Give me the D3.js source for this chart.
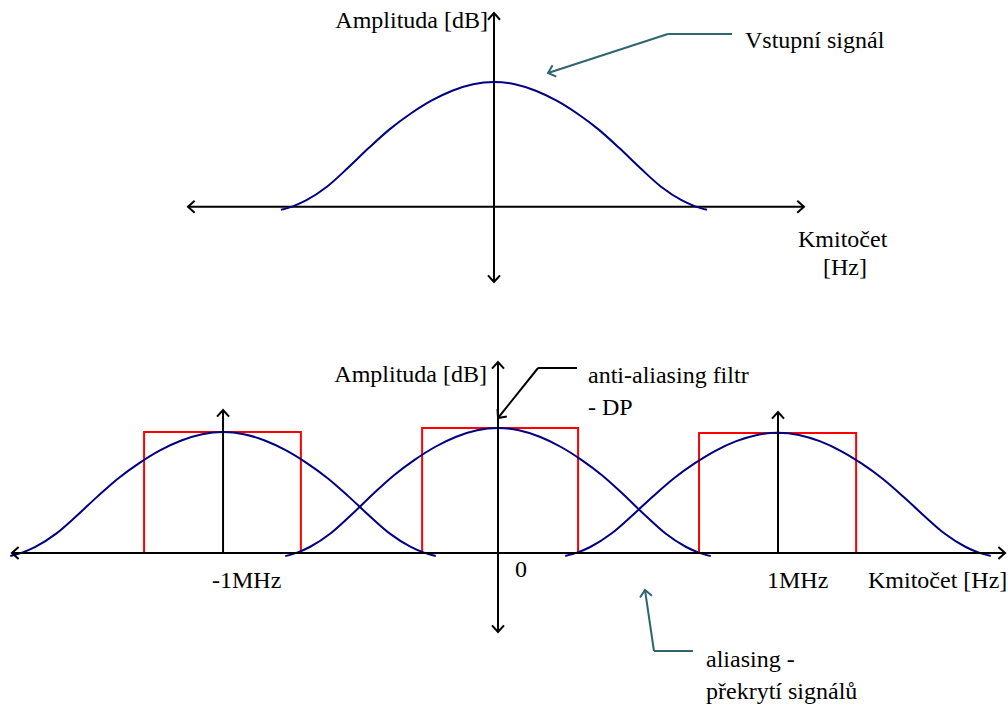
<!DOCTYPE html>
<html>
<head>
<meta charset="utf-8">
<script src="https://cdn.jsdelivr.net/npm/d3@7"></script>
<style>
  html, body { margin: 0; padding: 0; background: #ffffff; }
  svg { display: block; }
</style>
</head>
<body>
<svg id="chart" width="1008" height="709"></svg>
<script>
// ---------------- DATA ----------------
// normalised spectrum profile (offset from centre in half-widths, relative amplitude)
const profileU = [-1.02, -0.96, -0.9, -0.8, -0.7, -0.6, -0.5, -0.4, -0.3, -0.2, -0.1, 0, 0.1, 0.2, 0.3, 0.4, 0.5, 0.6, 0.7, 0.8, 0.9, 0.96, 1.02];
const profileV = [-0.025, 0.005, 0.05, 0.16, 0.31, 0.47, 0.62, 0.745, 0.85, 0.93, 0.982, 1, 0.982, 0.93, 0.85, 0.745, 0.62, 0.47, 0.31, 0.16, 0.05, 0.005, -0.025];

// top chart: input signal
const inputCenter = 0;
const inputHalfWidth = 0.746;
const inputAmplitude = 1.0;

// bottom chart: sampled spectrum replicas (MHz)
const replicaCenters = [-0.982, 0, 1.0];
const replicaAmplitudes = [0.968, 1.0, 0.962];
const replicaHalfWidth = 0.745;

// anti-aliasing filter (low-pass) passbands
const filterStart = [-1.264, -0.271, 0.718];
const filterEnd = [-0.704, 0.286, 1.279];
const filterLevel = [0.968, 1.0, 0.96];

// frequency tick labels
const tickLabels = ["-1MHz", "0", "1MHz"];
const tickValues = [-0.982, 0, 1.0];

// ---------------- LAYOUT ----------------
const FONT = "'Liberation Serif', 'Times New Roman', Tinos, serif";
const svg = d3.select("#chart");
const navy = "#000080", red = "#ff0000", teal = "#2f6471";

const xTop = d3.scaleLinear().domain([0, 1]).range([494, 774]);
const yTop = d3.scaleLinear().domain([0, 1]).range([206.7, 82]);
const xBot = d3.scaleLinear().domain([0, 1]).range([498, 778]);
const yBot = d3.scaleLinear().domain([0, 1]).range([553, 428]);

function label(g, x, y, t, anchor) {
  return g.append("text").attr("x", x).attr("y", y)
    .attr("font-family", FONT).attr("font-size", 24).attr("fill", "#000")
    .attr("text-anchor", anchor || "start").text(t);
}

function chevron(g, tx, ty, dx, dy, color, len, w) {
  const n = Math.hypot(dx, dy); dx /= n; dy /= n;
  const ang = Math.PI / 4.3;
  const p = (a) => [tx - len * (dx * Math.cos(a) - dy * Math.sin(a)), ty - len * (dx * Math.sin(a) + dy * Math.cos(a))];
  const a1 = p(ang), a2 = p(-ang);
  g.append("path")
    .attr("d", `M${a1[0]},${a1[1]}L${tx},${ty}L${a2[0]},${a2[1]}`)
    .attr("fill", "none").attr("stroke", color).attr("stroke-width", w)
    .attr("stroke-linejoin", "miter").attr("stroke-linecap", "butt");
}

function arrowLine(g, x1, y1, x2, y2, color, w) {
  g.append("line").attr("x1", x1).attr("y1", y1).attr("x2", x2).attr("y2", y2)
    .attr("stroke", color).attr("stroke-width", w);
  chevron(g, x2, y2, x2 - x1, y2 - y1, color, 9, w);
}

function profilePoints(c, hw, amp) {
  return profileU.map((u, i) => [c + u * hw, amp * profileV[i]]);
}

// ---------------- TOP CHART ----------------
const gTop = svg.append("g");
const topXExt = [-1.093, 1.107], topYExt = [-0.604, 1.553];
arrowLine(gTop, xTop(0), yTop(0), xTop(topXExt[0]), yTop(0), "#000", 2);
arrowLine(gTop, xTop(0), yTop(0), xTop(topXExt[1]), yTop(0), "#000", 2);
arrowLine(gTop, xTop(0), yTop(0), xTop(0), yTop(topYExt[1]), "#000", 2);
arrowLine(gTop, xTop(0), yTop(0), xTop(0), yTop(topYExt[0]), "#000", 2);

const lineTop = d3.line().x(d => xTop(d[0])).y(d => yTop(d[1])).curve(d3.curveMonotoneX);
gTop.append("path")
  .attr("d", lineTop(profilePoints(inputCenter, inputHalfWidth, inputAmplitude)))
  .attr("fill", "none").attr("stroke", navy).attr("stroke-width", 2);

label(gTop, 488, 28, "Amplituda [dB]", "end");
label(gTop, 798, 247, "Kmitočet");
label(gTop, 823, 275, "[Hz]");

// annotation: input signal
const annTop = [[0.85, 1.385], [0.621, 1.385], [0.193, 1.072]].map(p => [xTop(p[0]), yTop(p[1])]);
gTop.append("polyline").attr("points", annTop.slice(0, 2).map(p => p.join(",")).join(" "))
  .attr("fill", "none").attr("stroke", teal).attr("stroke-width", 2);
arrowLine(gTop, annTop[1][0], annTop[1][1], annTop[2][0], annTop[2][1], teal, 2);
label(gTop, 745, 48, "Vstupní signál");

// ---------------- BOTTOM CHART ----------------
const gBot = svg.append("g");
const botXExt = [-1.736, 1.811], botYExt = [-0.632, 1.528];

const rectLine = d3.line().x(d => xBot(d[0])).y(d => yBot(d[1]));
filterStart.forEach((s, i) => {
  gBot.append("path")
    .attr("d", rectLine([[s, 0], [s, filterLevel[i]], [filterEnd[i], filterLevel[i]], [filterEnd[i], 0]]))
    .attr("fill", "none").attr("stroke", red).attr("stroke-width", 2);
});

const lineBot = d3.line().x(d => xBot(d[0])).y(d => yBot(d[1])).curve(d3.curveMonotoneX);
replicaCenters.forEach((c, i) => {
  gBot.append("path")
    .attr("d", lineBot(profilePoints(c, replicaHalfWidth, replicaAmplitudes[i])))
    .attr("fill", "none").attr("stroke", navy).attr("stroke-width", 2);
});

arrowLine(gBot, xBot(0), yBot(0), xBot(botXExt[0]), yBot(0), "#000", 2);
arrowLine(gBot, xBot(0), yBot(0), xBot(botXExt[1]), yBot(0), "#000", 2);
arrowLine(gBot, xBot(0), yBot(0), xBot(0), yBot(botYExt[1]), "#000", 2);
arrowLine(gBot, xBot(0), yBot(0), xBot(0), yBot(botYExt[0]), "#000", 2);
[[replicaCenters[0], 1.144], [replicaCenters[2], 1.128]].forEach(d => {
  arrowLine(gBot, xBot(d[0]), yBot(0), xBot(d[0]), yBot(d[1]), "#000", 2);
});

tickLabels.forEach((t, i) => {
  label(gBot, xBot(tickValues[i]) + (t === "0" ? 17 : -11), t === "0" ? 577 : 588, t);
});
label(gBot, 868, 588, "Kmitočet [Hz]");
label(gBot, 487, 382, "Amplituda [dB]", "end");

const annAA = [[0.282, 1.48], [0.143, 1.48], [0, 1.08]].map(p => [xBot(p[0]), yBot(p[1])]);
gBot.append("polyline").attr("points", annAA.slice(0, 2).map(p => p.join(",")).join(" "))
  .attr("fill", "none").attr("stroke", "#000").attr("stroke-width", 2);
arrowLine(gBot, annAA[1][0], annAA[1][1], annAA[2][0], annAA[2][1], "#000", 2);
label(gBot, 588, 383, "anti-aliasing filtr");
label(gBot, 588, 415, "- DP");

const annAl = [[0.696, -0.784], [0.557, -0.784], [0.525, -0.296]].map(p => [xBot(p[0]), yBot(p[1])]);
gBot.append("polyline").attr("points", annAl.slice(0, 2).map(p => p.join(",")).join(" "))
  .attr("fill", "none").attr("stroke", teal).attr("stroke-width", 2);
arrowLine(gBot, annAl[1][0], annAl[1][1], annAl[2][0], annAl[2][1], teal, 2);
label(gBot, 706, 667, "aliasing -");
label(gBot, 706, 699, "překrytí signálů");
</script>
</body>
</html>
